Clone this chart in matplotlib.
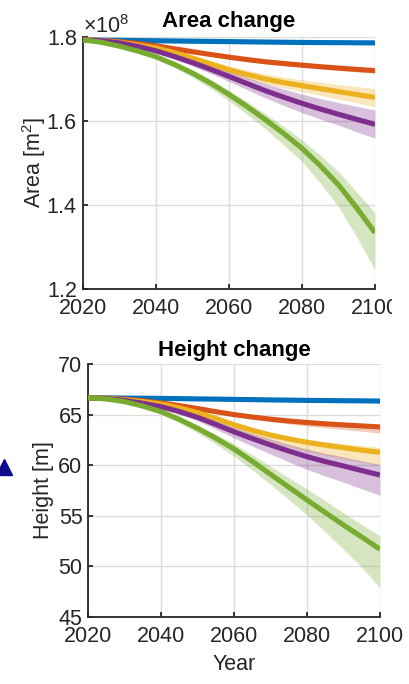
import numpy as np
import matplotlib
matplotlib.use("Agg")
import matplotlib.pyplot as plt
from matplotlib.ticker import ScalarFormatter, MultipleLocator
from matplotlib.transforms import Bbox
from matplotlib.lines import Line2D

plt.rcParams['font.family'] = ['Liberation Sans', 'DejaVu Sans']
plt.rcParams['mathtext.fontset'] = 'custom'
plt.rcParams['mathtext.rm'] = 'Liberation Sans'
plt.rcParams['mathtext.it'] = 'Liberation Sans:italic'

# ---- data ---------------------------------------------------------------
years = list(range(2020, 2101, 5))
scenarios = ["S1", "S2", "S3", "S4", "S5"]
colors = ["#0072BD", "#D95319", "#EDB120", "#7E2F8E", "#77AC30"]
year_ticks = [2020, 2040, 2060, 2080, 2100]

# glacier area [x 1e8 m^2]: ensemble mean and spread below / above it
area_mean = {
    "S1": [1.793, 1.7925, 1.792, 1.7915, 1.791, 1.7905, 1.790, 1.7895, 1.789,
           1.7885, 1.788, 1.7875, 1.787, 1.7867, 1.7865, 1.7862, 1.786],
    "S2": [1.793, 1.7918, 1.789, 1.7845, 1.779, 1.772, 1.765, 1.7583, 1.752,
           1.7462, 1.741, 1.7368, 1.733, 1.7293, 1.726, 1.7229, 1.720],
    "S3": [1.793, 1.7915, 1.787, 1.781, 1.774, 1.763, 1.750, 1.736, 1.722,
           1.7105, 1.700, 1.6915, 1.684, 1.677, 1.670, 1.663, 1.656],
    "S4": [1.793, 1.791, 1.786, 1.7775, 1.767, 1.7535, 1.739, 1.723, 1.706,
           1.689, 1.672, 1.6565, 1.642, 1.6285, 1.616, 1.6038, 1.592],
    "S5": [1.793, 1.7875, 1.778, 1.7665, 1.753, 1.735, 1.714, 1.690, 1.663,
           1.634, 1.603, 1.570, 1.535, 1.4935, 1.448, 1.393, 1.334],
}
area_spread_lo = {
    "S1": [0, .0005, .001, .0012, .0014, .0015, .0016, .0017, .0018, .0019,
           .002, .002, .002, .002, .002, .002, .002],
    "S2": [0, .0005, .001, .0015, .002, .0025, .003, .0035, .004, .0045,
           .005, .005, .005, .0055, .006, .006, .006],
    "S3": [0, .0005, .001, .002, .003, .0045, .006, .0075, .009, .0105,
           .012, .013, .014, .016, .018, .020, .022],
    "S4": [0, .001, .002, .003, .004, .006, .008, .010, .012, .0145,
           .017, .0195, .022, .024, .026, .0295, .033],
    "S5": [0, .0015, .003, .0045, .006, .008, .010, .0125, .015, .0185,
           .022, .027, .032, .041, .052, .069, .089],
}
area_spread_hi = {
    "S1": [0, .0004, .0007, .0008, .0009, .001, .001, .001, .001, .001,
           .001, .001, .001, .001, .001, .001, .001],
    "S2": [0, .0005, .001, .0015, .002, .0025, .003, .0035, .004, .004,
           .004, .004, .004, .004, .004, .0045, .005],
    "S3": [0, .0005, .001, .002, .003, .0045, .006, .0075, .009, .0105,
           .012, .013, .014, .0155, .017, .019, .021],
    "S4": [0, .001, .002, .003, .004, .006, .008, .010, .012, .0145,
           .017, .0195, .022, .025, .028, .031, .034],
    "S5": [0, .001, .002, .003, .004, .0055, .007, .0085, .010, .012,
           .014, .017, .020, .025, .031, .038, .047],
}

# glacier height [m]: ensemble mean and spread below / above it
height_mean = {
    "S1": [66.67, 66.65, 66.63, 66.62, 66.60, 66.58, 66.55, 66.53, 66.50,
           66.48, 66.45, 66.43, 66.40, 66.39, 66.37, 66.36, 66.34],
    "S2": [66.67, 66.62, 66.52, 66.36, 66.15, 65.89, 65.60, 65.29, 65.00,
           64.76, 64.55, 64.37, 64.22, 64.09, 63.98, 63.88, 63.78],
    "S3": [66.67, 66.60, 66.45, 66.28, 66.05, 65.67, 65.20, 64.62, 64.00,
           63.45, 62.98, 62.60, 62.26, 61.98, 61.73, 61.49, 61.27],
    "S4": [66.67, 66.58, 66.40, 66.12, 65.78, 65.30, 64.73, 64.03, 63.30,
           62.63, 62.00, 61.40, 60.84, 60.36, 59.92, 59.47, 59.03],
    "S5": [66.67, 66.55, 66.28, 65.84, 65.29, 64.53, 63.65, 62.67, 61.60,
           60.38, 59.10, 57.83, 56.56, 55.32, 54.09, 52.90, 51.70],
}
height_spread_lo = {
    "S1": [0, .02, .03, .04, .05, .055, .06, .065, .07, .075, .08, .085,
           .09, .095, .10, .105, .11],
    "S2": [0, .01, .02, .035, .05, .075, .10, .125, .15, .20, .25, .30,
           .35, .40, .45, .52, .60],
    "S3": [0, .02, .05, .10, .15, .22, .30, .40, .50, .60, .70, .80,
           .90, 1.0, 1.1, 1.2, 1.3],
    "S4": [0, .02, .05, .10, .15, .25, .35, .47, .60, .75, .90, 1.07,
           1.25, 1.42, 1.6, 1.8, 2.0],
    "S5": [0, .05, .10, .17, .25, .35, .45, .57, .70, .85, 1.0, 1.22,
           1.5, 1.9, 2.4, 3.0, 3.8],
}
height_spread_hi = {
    "S1": [0, .01, .02, .025, .03, .035, .04, .045, .05, .055, .06, .065,
           .07, .075, .08, .085, .09],
    "S2": [0, .01, .02, .03, .04, .05, .06, .07, .08, .09, .10, .10,
           .10, .11, .12, .135, .15],
    "S3": [0, .02, .05, .07, .10, .12, .15, .17, .20, .22, .25, .27,
           .30, .35, .40, .45, .50],
    "S4": [0, .02, .05, .10, .15, .22, .30, .37, .45, .52, .60, .67,
           .75, .82, .90, .97, 1.05],
    "S5": [0, .02, .05, .10, .15, .22, .30, .40, .50, .65, .80, .95,
           1.1, 1.15, 1.2, 1.25, 1.3],
}

# ---- figure -------------------------------------------------------------
W, H = 410, 684
fig = plt.figure(figsize=(W / 100, H / 100), dpi=100)

ax_area = fig.add_axes([83 / W, 1 - 289 / H, 292 / W, 252 / H])
ax_height = fig.add_axes([88 / W, 1 - 617 / H, 292 / W, 253 / H])

FS = 15.5
TFS = 16
spine_c = "#262626"


def style_axes(ax):
    ax.set_xlim(2020, 2100)
    ax.set_xticks(year_ticks)
    for s in ("top", "right"):
        ax.spines[s].set_visible(False)
    for s in ("left", "bottom"):
        ax.spines[s].set_color(spine_c)
        ax.spines[s].set_linewidth(1.3)
    ax.tick_params(direction="in", length=3.5, width=1.3, color=spine_c,
                   labelsize=FS, labelcolor=spine_c)
    ax.tick_params(axis="x", pad=6.5)
    ax.tick_params(axis="y", pad=4)
    ax.grid(True, color="#dcdcdc", linewidth=1.0)
    ax.set_axisbelow(True)


def draw_series(ax, mean, spread_lo, spread_hi, scale=1.0):
    for key, c in zip(scenarios, colors):
        m = np.asarray(mean[key])
        lo = m - np.asarray(spread_lo[key])
        hi = m + np.asarray(spread_hi[key])
        ax.fill_between(years, lo * scale, hi * scale, color=c, alpha=0.3,
                        linewidth=0, zorder=2)
    for key, c in zip(scenarios, colors):
        ax.plot(years, np.asarray(mean[key]) * scale, color=c, linewidth=3.7,
                solid_capstyle="butt", solid_joinstyle="round", zorder=3)


# area panel
draw_series(ax_area, area_mean, area_spread_lo, area_spread_hi, scale=1e8)
style_axes(ax_area)
ax_area.set_ylim(1.2e8, 1.8e8)
ax_area.yaxis.set_major_locator(MultipleLocator(0.2e8))
fmt = ScalarFormatter(useMathText=True)
fmt.set_powerlimits((0, 0))
ax_area.yaxis.set_major_formatter(fmt)
ax_area.yaxis.get_offset_text().set_fontsize(FS)
ax_area.yaxis.get_offset_text().set_color(spine_c)
ax_area.set_ylabel("Area [m$^2$]", fontsize=FS, color=spine_c, labelpad=-1)
ax_area.set_title("Area change", fontsize=TFS, fontweight="bold", pad=7)

# area panel's year labels end at the panel edge
clip = Bbox.from_extents(0, 0, 392, H)
for lbl in ax_area.get_xticklabels():
    lbl.set_clip_box(clip)
    lbl.set_clip_on(True)

# height panel
draw_series(ax_height, height_mean, height_spread_lo, height_spread_hi)
style_axes(ax_height)
ax_height.set_ylim(45, 70)
ax_height.set_yticks([45, 50, 55, 60, 65, 70])
ax_height.set_ylabel("Height [m]", fontsize=FS, color=spine_c, labelpad=3)
ax_height.set_xlabel("Year", fontsize=FS, color=spine_c, labelpad=5)
ax_height.set_title("Height change", fontsize=TFS, fontweight="bold", pad=6)

# marker from the neighbouring panel
fig.add_artist(Line2D([4.5 / W], [1 - 467 / H], marker="^", markersize=12,
                      color="#0c0c8c", linestyle="none",
                      transform=fig.transFigure))

fig.savefig("out.png", dpi=100)
